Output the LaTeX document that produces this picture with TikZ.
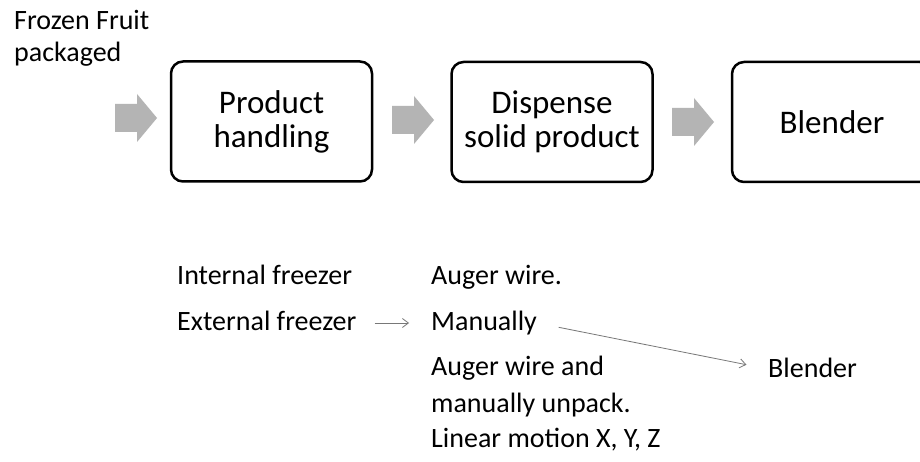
\documentclass[tikz,border=0pt]{standalone}
\usepackage{fontspec}
\setmainfont{Carlito}
\usetikzlibrary{arrows.meta}
\definecolor{arrowgray}{RGB}{180,180,180}
\definecolor{linegray}{RGB}{120,120,120}
\tikzset{
  stagebox/.style={draw=black, line width=2.5pt, rounded corners=12pt,
    minimum width=201pt, minimum height=120pt, align=center, inner sep=0pt,
    font=\fontsize{33}{34}\selectfont},
  smalltext/.style={anchor=base west, inner sep=0pt, font=\fontsize{28}{32}\selectfont},
  thinarrow/.style={draw=linegray, line width=0.8pt, -{Straight Barb[length=6pt,width=9pt]}},
}
\newcommand{\blockarrow}[3]{% name, left x, center y
  \fill[arrowgray] (#2,#3-14) -- (#2+22,#3-14) -- (#2+22,#3-24) -- (#2+42,#3)
    -- (#2+22,#3+24) -- (#2+22,#3+14) -- (#2,#3+14) -- cycle;
  \coordinate (#1) at (#2+21,#3);
}
\begin{document}
\begin{tikzpicture}[x=1pt,y=-1pt]
\useasboundingbox (0,0) rectangle (920,462);
\clip (0,0) rectangle (920,462);
\fill[white] (0,0) rectangle (920,462);

\node[smalltext] (frozenA) at (14,30) {Frozen Fruit};
\node[smalltext] (frozenB) at (14,62) {packaged};

\node[stagebox] (handling) at (271.5,121.5) {Product\\handling};
\node[stagebox] (dispense) at (552,122) {Dispense\\solid product};
\node[stagebox, minimum width=200pt] (blender) at (832,122) {Blender};

\blockarrow{arrA}{115}{118}
\blockarrow{arrB}{392}{120}
\blockarrow{arrC}{672}{122}

\node[smalltext] (intfreezer) at (177,284) {Internal freezer};
\node[smalltext] (extfreezer) at (177,330) {External freezer};

\node[smalltext] (auger) at (431,284) {Auger wire.};
\node[smalltext] (manually) at (431,330) {Manually};
\node[smalltext] (augerA) at (431,375) {Auger wire and};
\node[smalltext] (augerB) at (431,412) {manually unpack.};
\node[smalltext] (linear) at (431,447) {Linear motion X, Y, Z};

\node[smalltext] (blendout) at (768,377) {Blender};

\draw[thinarrow, shorten <=18pt, shorten >=22pt]
  ([yshift=7pt]extfreezer.base east) -- ([yshift=7pt]manually.base west);
\draw[thinarrow, shorten <=22pt, shorten >=22pt]
  ([yshift=7pt]manually.base east) -- ([yshift=8pt]blendout.base west);
\end{tikzpicture}
\end{document}
